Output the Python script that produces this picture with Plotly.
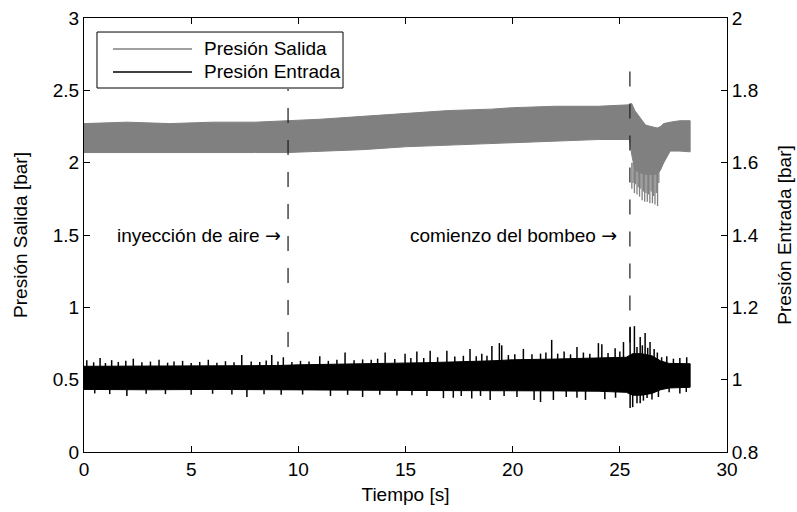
import plotly.graph_objects as go

# ---- Presión Salida (left axis, bar): envelope of the oscillating signal ----
t_out = [0, 2, 4, 6, 8, 9.5, 11, 13, 15, 17, 19, 20, 22, 24, 25.45,
         25.55, 25.7, 25.95, 26.2, 26.45, 26.75, 26.9, 27.05, 27.35, 27.8, 28.28]
out_hi = [2.27, 2.28, 2.27, 2.28, 2.28, 2.29, 2.30, 2.32, 2.34, 2.36, 2.37, 2.38, 2.39, 2.39, 2.40,
          2.41, 2.36, 2.31, 2.26, 2.25, 2.24, 2.25, 2.27, 2.28, 2.29, 2.29]
out_lo = [2.07, 2.07, 2.07, 2.07, 2.07, 2.07, 2.08, 2.09, 2.11, 2.12, 2.13, 2.14, 2.15, 2.16, 2.16,
          2.06, 1.95, 1.93, 1.92, 1.92, 1.92, 1.95, 2.00, 2.08, 2.08, 2.075]
# downward pressure swings after the pump starts
out_dip_t = [25.56, 25.62, 25.68, 25.74, 25.80, 25.86, 25.92, 25.98, 26.04, 26.10, 26.16,
             26.22, 26.28, 26.34, 26.40, 26.46, 26.52, 26.58, 26.64, 26.70, 26.76, 26.82]
out_dip_v = [1.82, 1.86, 1.79, 1.85, 1.78, 1.83, 1.765, 1.82, 1.74, 1.80, 1.73,
             1.79, 1.73, 1.78, 1.72, 1.80, 1.72, 1.77, 1.71, 1.79, 1.70, 1.86]

# ---- Presión Entrada (right axis, bar): envelope of the oscillating signal ----
t_in = [0, 3, 6, 9, 10, 13, 16, 19, 20, 22, 24, 25.3, 25.6, 26.0, 26.5, 26.9, 27.3, 28.28]
in_hi = [1.037, 1.037, 1.039, 1.039, 1.041, 1.043, 1.047, 1.052, 1.055, 1.057, 1.059,
         1.062, 1.072, 1.072, 1.066, 1.052, 1.045, 1.044]
in_lo = [0.973, 0.972, 0.973, 0.972, 0.972, 0.971, 0.970, 0.968, 0.969, 0.969, 0.968,
         0.965, 0.957, 0.957, 0.962, 0.972, 0.977, 0.979]
# peaks above and below the main band
in_peak_t = [0.13, 0.45, 0.75, 1.0, 1.29, 1.6, 1.95, 2.30, 2.7, 3.1, 3.5, 3.9, 4.2, 4.6,
             5.0, 5.4, 5.8, 6.2, 6.6, 7.0, 7.36, 7.8, 8.2, 8.5, 8.76, 9.05, 9.30, 9.7,
             10.1, 10.5, 11.0, 11.4, 11.8, 12.18, 12.6, 13.0, 13.4, 13.7, 14.05, 14.5,
             14.98, 15.25, 15.53, 15.85, 16.15, 16.5, 16.93, 17.3, 17.7, 18.01, 18.3,
             18.56, 18.8, 19.03, 19.38, 19.49, 19.8, 20.1, 20.5, 20.9, 21.3, 21.55, 21.82,
             22.1, 22.4, 22.7, 23.0, 23.3, 23.6, 24.0, 24.16, 24.45, 24.78, 25.0, 25.17,
             25.48, 25.68, 25.8, 25.95, 26.05, 26.18, 26.3, 26.41, 26.60, 26.75, 26.95,
             27.19, 27.5, 27.8, 28.12]
in_peak_v = [1.054, 1.048, 1.060, 1.046, 1.054, 1.049, 1.052, 1.058, 1.048, 1.050, 1.055,
             1.047, 1.050, 1.052, 1.046, 1.049, 1.055, 1.047, 1.051, 1.048, 1.068, 1.050,
             1.049, 1.053, 1.068, 1.050, 1.062, 1.049, 1.052, 1.050, 1.065, 1.052, 1.055,
             1.075, 1.054, 1.056, 1.055, 1.058, 1.075, 1.057, 1.072, 1.060, 1.078, 1.060,
             1.080, 1.062, 1.080, 1.064, 1.066, 1.085, 1.065, 1.072, 1.066, 1.093, 1.101,
             1.095, 1.068, 1.070, 1.085, 1.070, 1.072, 1.075, 1.110, 1.072, 1.078, 1.070,
             1.090, 1.075, 1.072, 1.101, 1.098, 1.074, 1.087, 1.078, 1.104, 1.146, 1.148,
             1.090, 1.118, 1.095, 1.129, 1.088, 1.104, 1.085, 1.075, 1.062, 1.065, 1.058,
             1.060, 1.062]
in_trough_t = [0.5, 1.2, 2.0, 2.9, 3.8, 5.0, 6.0, 6.9, 7.6, 8.4, 9.2, 10.2, 11.5, 12.3,
               13.0, 13.8, 14.6, 15.3, 16.0, 16.77, 17.23, 17.6, 18.09, 18.5, 18.95, 19.6,
               20.2, 21.0, 21.3, 21.9, 22.5, 23.0, 23.4, 24.3, 24.8, 25.48, 25.6, 25.8,
               25.95, 26.1, 26.27, 26.5, 26.8, 27.3, 27.8, 28.1]
in_trough_v = [0.962, 0.960, 0.955, 0.961, 0.960, 0.958, 0.961, 0.959, 0.952, 0.960, 0.958,
               0.959, 0.955, 0.958, 0.952, 0.958, 0.956, 0.957, 0.955, 0.949, 0.950, 0.955,
               0.948, 0.955, 0.944, 0.955, 0.952, 0.944, 0.938, 0.944, 0.952, 0.950, 0.944,
               0.946, 0.950, 0.922, 0.924, 0.935, 0.935, 0.942, 0.949, 0.945, 0.952, 0.965,
               0.962, 0.966]

# ---- events (left-axis span of the dashed markers) ----
event_t = [9.52, 25.47]
event_y = [(0.726, 2.509), (2.63, 0.746)]
event_text = ["inyección de aire", "comienzo del bombeo"]
event_text_x = [9.3, 24.95]

FONT = "Liberation Sans, Arial, Helvetica, sans-serif"
GRAY = "#808080"
FS = 19

fig = go.Figure()


def band(t, hi, lo, color, yaxis):
    return go.Scatter(x=t + t[::-1], y=hi + lo[::-1], fill="toself", fillcolor=color,
                      mode="lines", line=dict(color=color, width=1), yaxis=yaxis,
                      hoverinfo="skip", showlegend=False)


def spikes(ts, vs, base, color, width, yaxis):
    xs, ys = [], []
    for t, v in zip(ts, vs):
        xs += [t, t, None]
        ys += [base, v, None]
    return go.Scatter(x=xs, y=ys, mode="lines", line=dict(color=color, width=width),
                      yaxis=yaxis, hoverinfo="skip", showlegend=False)


fig.add_trace(band(t_out, out_hi, out_lo, GRAY, "y"))
fig.add_trace(spikes(out_dip_t, out_dip_v, 2.0, GRAY, 1.3, "y"))

fig.add_trace(band(t_in, in_hi, in_lo, "#000000", "y2"))
fig.add_trace(spikes(in_peak_t, in_peak_v, 1.0, "#000000", 1.5, "y2"))
fig.add_trace(spikes(in_trough_t, in_trough_v, 1.0, "#000000", 1.5, "y2"))

for t, (y0, y1) in zip(event_t, event_y):
    fig.add_trace(go.Scatter(x=[t, t], y=[y0, y1], mode="lines", yaxis="y",
                             line=dict(color="#1a1a1a", width=1.2, dash="15px,17px"),
                             hoverinfo="skip", showlegend=False))

ARROW = " <span style='font-family:DejaVu Sans'>\u2192</span>"
for x, txt in zip(event_text_x, event_text):
    fig.add_annotation(x=x, y=1.5, xref="x", yref="y", text=txt + ARROW, showarrow=False,
                       xanchor="right", yanchor="middle",
                       font=dict(family=FONT, size=FS, color="#000"))

# legend box drawn in paper coordinates
legend_names = ["Presión Salida", "Presión Entrada"]
legend_colors = [GRAY, "#000000"]
legend_rows = [0.9286, 0.8756]
fig.add_shape(type="rect", xref="paper", yref="paper", x0=0.0202, x1=0.4028,
              y0=0.8387, y1=0.9677, line=dict(color="#000", width=1), fillcolor="#fff")
for name, color, yr in zip(legend_names, legend_colors, legend_rows):
    fig.add_shape(type="line", xref="paper", yref="paper", x0=0.0451, x1=0.168,
                  y0=yr, y1=yr, line=dict(color=color, width=1.3))
    fig.add_annotation(x=0.1835, y=yr, xref="paper", yref="paper", text=name,
                       showarrow=False, xanchor="left", yanchor="middle",
                       font=dict(family=FONT, size=FS, color="#000"))

axis_common = dict(showline=True, linecolor="#000", linewidth=1, ticks="inside",
                   ticklen=6, tickcolor="#000", showgrid=False, zeroline=False,
                   tickfont=dict(family=FONT, size=FS, color="#000"))
title_font = dict(family=FONT, size=FS, color="#000")

fig.update_layout(
    width=797, height=512,
    margin=dict(l=84, r=70, t=18, b=60, autoexpand=False),
    paper_bgcolor="#fff", plot_bgcolor="#fff",
    showlegend=False,
    xaxis=dict(range=[0, 30], tickmode="linear", tick0=0, dtick=5, mirror="ticks",
               title=dict(text="Tiempo [s]", font=title_font, standoff=8),
               **axis_common),
    yaxis=dict(range=[0, 3], tickmode="linear", tick0=0, dtick=0.5,
               title=dict(text="Presión Salida [bar]", font=title_font, standoff=20),
               **axis_common),
    yaxis2=dict(range=[0.8, 2], tickmode="linear", tick0=0.8, dtick=0.2, overlaying="y",
                side="right",
                title=dict(text="Presión Entrada [bar]", font=title_font, standoff=20),
                **axis_common),
)

fig.write_html("out.html")
